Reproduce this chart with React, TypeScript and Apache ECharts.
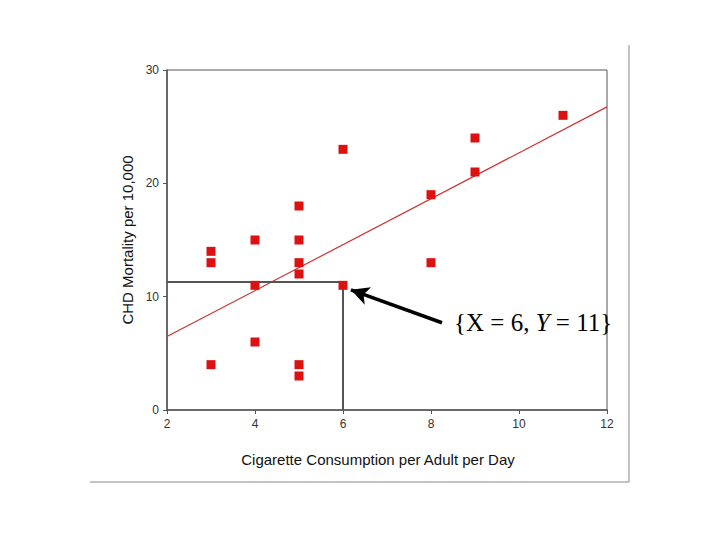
import React, { useEffect, useRef } from "react";
import * as echarts from "echarts";

const cigarettes = [3, 3, 3, 4, 4, 4, 5, 5, 5, 5, 5, 5, 6, 6, 8, 8, 9, 9, 11];
const mortality = [14, 13, 4, 15, 11, 6, 18, 15, 13, 12, 4, 3, 23, 11, 19, 13, 24, 21, 26];
const xTicks = [2, 4, 6, 8, 10, 12];
const yTicks = [0, 10, 20, 30];
const highlightX = 6;
const highlightY = 11;
const guideY = 11.3;
const arrowFrom = [8.25, 7.7];
const arrowTo = [6.18, 10.6];

function fitLine(xs: number[], ys: number[]) {
  const n = xs.length;
  const mx = xs.reduce((a, b) => a + b, 0) / n;
  const my = ys.reduce((a, b) => a + b, 0) / n;
  let sxy = 0, sxx = 0;
  for (let i = 0; i < n; i++) {
    sxy += (xs[i] - mx) * (ys[i] - my);
    sxx += (xs[i] - mx) * (xs[i] - mx);
  }
  const b = sxy / sxx;
  return { a: my - b * mx, b };
}

export default function App() {
  const ref = useRef<HTMLDivElement>(null);
  useEffect(() => {
    if (!ref.current) return;
    const chart = echarts.init(ref.current, null, { renderer: "svg" });
    const { a, b } = fitLine(cigarettes, mortality);
    const xMin = xTicks[0];
    const xMax = xTicks[xTicks.length - 1];
    const points = cigarettes.map((x, i) => [x, mortality[i]]);
    chart.setOption({
      animation: false,
      backgroundColor: "#ffffff",
      grid: {
        left: 167,
        right: 113,
        top: 70,
        bottom: 130,
        show: true,
        borderColor: "#555",
        borderWidth: 1,
      },
      xAxis: {
        type: "value",
        min: xMin,
        max: xMax,
        interval: 2,
        name: "Cigarette Consumption per Adult per Day",
        nameLocation: "middle",
        nameGap: 42,
        nameTextStyle: {
          fontFamily: "Liberation Sans",
          fontSize: 15,
          color: "#111",
          padding: [0, 18, 0, 0],
        },
        axisLine: { show: true, lineStyle: { color: "#555", width: 1.5 } },
        axisTick: { show: true, length: 4, lineStyle: { color: "#555" } },
        axisLabel: { fontFamily: "Liberation Sans", fontSize: 12, color: "#333", margin: 8 },
        splitLine: { show: false },
      },
      yAxis: {
        type: "value",
        min: yTicks[0],
        max: yTicks[yTicks.length - 1],
        interval: 10,
        name: "CHD Mortality per 10,000",
        nameLocation: "middle",
        nameGap: 30,
        nameTextStyle: { fontFamily: "Liberation Sans", fontSize: 15, color: "#111" },
        axisLine: { show: true, lineStyle: { color: "#555", width: 1.5 } },
        axisTick: { show: true, length: 4, lineStyle: { color: "#555" } },
        axisLabel: { fontFamily: "Liberation Sans", fontSize: 12, color: "#333", margin: 8 },
        splitLine: { show: false },
      },
      series: [
        {
          type: "line",
          data: [
            [xMin, a + b * xMin],
            [xMax, a + b * xMax],
          ],
          showSymbol: false,
          symbol: "none",
          lineStyle: { color: "#cc3333", width: 1.2 },
          z: 2,
          silent: true,
          markLine: {
            silent: true,
            symbol: ["none", "none"],
            label: { show: false },
            lineStyle: { color: "#555", width: 2, type: "solid" },
            data: [
              [{ coord: [xMin, guideY] }, { coord: [highlightX, guideY] }],
              [{ coord: [highlightX, guideY] }, { coord: [highlightX, 0] }],
            ],
          },
        },
        {
          type: "line",
          data: [],
          silent: true,
          markLine: {
            silent: true,
            symbol: ["none", "arrow"],
            symbolSize: [14, 18],
            label: { show: false },
            lineStyle: { color: "#000", width: 3.5, type: "solid" },
            data: [[{ coord: arrowFrom }, { coord: arrowTo }]],
          },
        },
        {
          type: "scatter",
          data: points,
          symbol: "rect",
          symbolSize: 9,
          itemStyle: { color: "#dd1111", opacity: 1 },
          z: 5,
        },
      ],
      graphic: [
        {
          type: "text",
          left: 454,
          top: 310,
          style: {
            text: "{n|{X = " + highlightX + ", }{i|Y}{n| = " + highlightY + "}}",
            fontFamily: "Liberation Serif",
            fontSize: 25,
            fill: "#000",
            rich: {
              n: { fontFamily: "Liberation Serif", fontSize: 25, fill: "#000" },
              i: { fontFamily: "Liberation Serif", fontSize: 25, fontStyle: "italic", fill: "#000" },
            },
          },
        },
        {
          type: "line",
          shape: { x1: 629, y1: 45, x2: 629, y2: 482 },
          style: { stroke: "#888", lineWidth: 1 },
        },
        {
          type: "line",
          shape: { x1: 90, y1: 482, x2: 629, y2: 482 },
          style: { stroke: "#888", lineWidth: 1 },
        },
      ],
    });
    return () => chart.dispose();
  }, []);
  return (
    <div
      ref={ref}
      style={{ position: "fixed", left: 0, top: 0, width: 720, height: 540 }}
    />
  );
}
